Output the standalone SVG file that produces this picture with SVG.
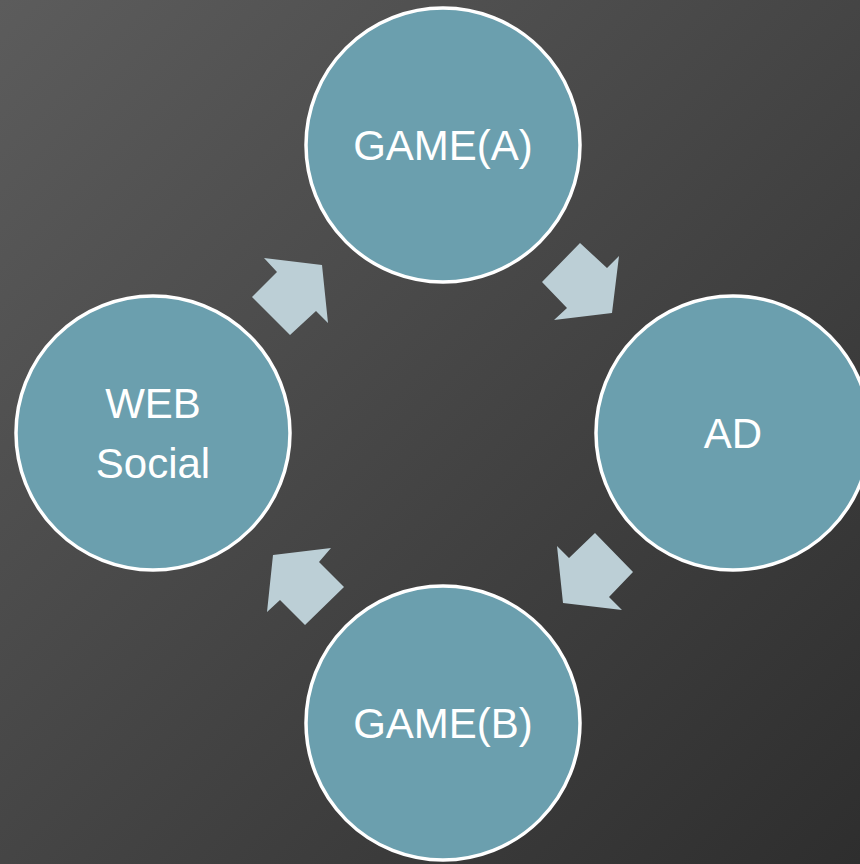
<svg xmlns="http://www.w3.org/2000/svg" width="860" height="864" viewBox="0 0 860 864">
<defs>
<linearGradient id="bg" x1="0" y1="0" x2="1" y2="1">
<stop offset="0" stop-color="#5c5c5c"/>
<stop offset="1" stop-color="#2e2e2e"/>
</linearGradient>
<style>
.node{fill:#6b9fae;stroke:#ffffff;stroke-width:3.5}
.lbl{fill:#ffffff;font-family:"Liberation Sans",Arial,sans-serif;font-size:42px;text-anchor:middle}
.arr{fill:#bccfd6}
</style>
</defs>
<rect width="860" height="864" fill="url(#bg)"/>
<g id="connectors">
<polygon class="arr" points="580,243 607,268 619,256 612,313 554,320 567,308 542,282"/>
<polygon class="arr" points="595,533 633,572 609,597 622,610 563,603 557,546 569,558"/>
<polygon class="arr" points="331,548 273,555 267,612 280,600 305,625 344,587 319,562"/>
<polygon class="arr" points="264,258 322,265 328,323 316,311 290,335 252,297 277,272"/>
</g>
<g id="gameA">
<circle class="node" cx="443" cy="145" r="137"/>
<text class="lbl" x="443" y="160">GAME(A)</text>
</g>
<g id="ad">
<circle class="node" cx="733" cy="433" r="137"/>
<text class="lbl" x="733" y="448">AD</text>
</g>
<g id="gameB">
<circle class="node" cx="443" cy="723" r="137"/>
<text class="lbl" x="443" y="738">GAME(B)</text>
</g>
<g id="web">
<circle class="node" cx="153" cy="433" r="137"/>
<text class="lbl" x="153" y="418">WEB</text>
<text class="lbl" x="153" y="478">Social</text>
</g>
</svg>
